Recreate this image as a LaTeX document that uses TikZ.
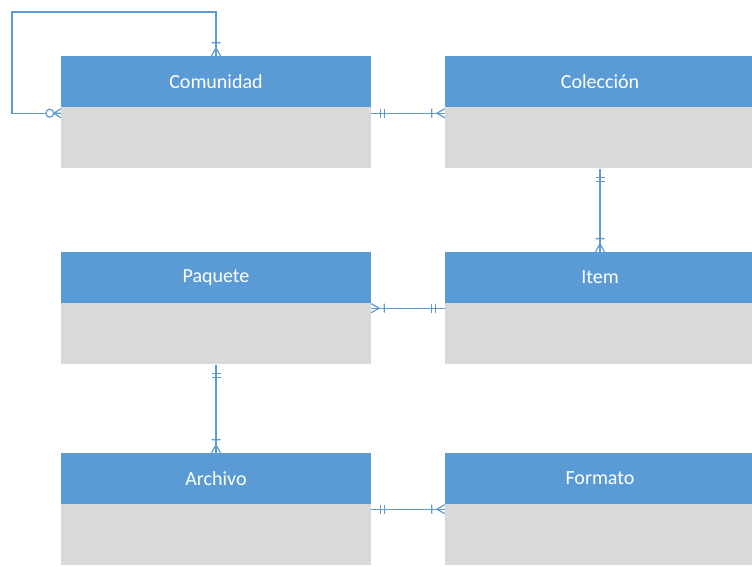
\documentclass[tikz,border=0pt]{standalone}
\usepackage{fontspec}
\setmainfont{Carlito}
\usetikzlibrary{arrows.meta}

% Crow's-foot notation tips (sizes in pt; the picture uses 1pt units)
\pgfdeclarearrow{
  name = ERom,
  parameters = {},
  setup code = {
    \pgfarrowssettipend{0pt}
    \pgfarrowssetlineend{0pt}
    \pgfarrowssetbackend{-14pt}
    \pgfarrowssetvisualbackend{-14pt}
    \pgfarrowshullpoint{0pt}{5pt}
    \pgfarrowshullpoint{0pt}{-5pt}
    \pgfarrowshullpoint{-14pt}{5pt}
    \pgfarrowshullpoint{-14pt}{-5pt}
  },
  drawing code = {
    \pgfsetdash{}{0pt}
    \pgfsetbuttcap
    \pgfsetlinewidth{1.2pt}
    \pgfpathmoveto{\pgfqpoint{0pt}{4.5pt}}
    \pgfpathlineto{\pgfqpoint{-8pt}{0pt}}
    \pgfpathlineto{\pgfqpoint{0pt}{-4.5pt}}
    \pgfpathmoveto{\pgfqpoint{-13pt}{4.5pt}}
    \pgfpathlineto{\pgfqpoint{-13pt}{-4.5pt}}
    \pgfusepathqstroke
  }
}
\pgfdeclarearrow{
  name = ERone,
  parameters = {},
  setup code = {
    \pgfarrowssettipend{0pt}
    \pgfarrowssetlineend{0pt}
    \pgfarrowssetbackend{-14pt}
    \pgfarrowssetvisualbackend{-14pt}
    \pgfarrowshullpoint{0pt}{5pt}
    \pgfarrowshullpoint{0pt}{-5pt}
    \pgfarrowshullpoint{-14pt}{5pt}
    \pgfarrowshullpoint{-14pt}{-5pt}
  },
  drawing code = {
    \pgfsetdash{}{0pt}
    \pgfsetbuttcap
    \pgfsetlinewidth{1.2pt}
    \pgfpathmoveto{\pgfqpoint{-9pt}{4.5pt}}
    \pgfpathlineto{\pgfqpoint{-9pt}{-4.5pt}}
    \pgfpathmoveto{\pgfqpoint{-13pt}{4.5pt}}
    \pgfpathlineto{\pgfqpoint{-13pt}{-4.5pt}}
    \pgfusepathqstroke
  }
}
\pgfdeclarearrow{
  name = ERzm,
  parameters = {},
  setup code = {
    \pgfarrowssettipend{0pt}
    \pgfarrowssetlineend{-15pt}
    \pgfarrowssetbackend{-16pt}
    \pgfarrowssetvisualbackend{-16pt}
    \pgfarrowshullpoint{0pt}{5pt}
    \pgfarrowshullpoint{0pt}{-5pt}
    \pgfarrowshullpoint{-16pt}{5pt}
    \pgfarrowshullpoint{-16pt}{-5pt}
  },
  drawing code = {
    \pgfsetdash{}{0pt}
    \pgfsetbuttcap
    \pgfsetlinewidth{1.2pt}
    \pgfpathmoveto{\pgfqpoint{0pt}{4.5pt}}
    \pgfpathlineto{\pgfqpoint{-7pt}{0pt}}
    \pgfpathlineto{\pgfqpoint{0pt}{-4.5pt}}
    \pgfpathmoveto{\pgfqpoint{0pt}{0pt}}
    \pgfpathlineto{\pgfqpoint{-7pt}{0pt}}
    \pgfpathcircle{\pgfqpoint{-11pt}{0pt}}{4pt}
    \pgfusepathqstroke
  }
}

\definecolor{hdrblue}{HTML}{5B9BD5}
\definecolor{bodygray}{HTML}{D9D9D9}
\definecolor{linkblue}{HTML}{5F9AD2}

\tikzset{
  entityhead/.style={rectangle, fill=hdrblue, minimum width=310pt,
    minimum height=51pt, inner sep=0pt, text=white, font=\fontsize{20}{24}\selectfont},
  entitybody/.style={rectangle, fill=bodygray, minimum width=310pt,
    minimum height=61pt, inner sep=0pt, anchor=north},
  rel/.style={draw=linkblue, line width=1.2pt}
}

\begin{document}
\begin{tikzpicture}[x=1pt, y=-1pt]
  \useasboundingbox (0,0) rectangle (752,566);

  % entities: header with the name, empty body below
  \node[entityhead] (com) at (216,81.5) {Comunidad};
  \node[entitybody] (comb) at (com.south) {};
  \node[entityhead] (col) at (600,81.5) {Colección};
  \node[entitybody] (colb) at (col.south) {};
  \node[entityhead] (paq) at (216,277.5) {Paquete};
  \node[entitybody] (paqb) at (paq.south) {};
  \node[entityhead] (item) at (600,277.5) {Item};
  \node[entitybody] (itemb) at (item.south) {};
  \node[entityhead] (arc) at (216,478.5) {Archivo};
  \node[entitybody] (arcb) at (arc.south) {};
  \node[entityhead] (for) at (600,478.5) {Formato};
  \node[entitybody] (forb) at (for.south) {};

  % relationships
  \coordinate (loop) at (12,12);
  \draw[rel, ERzm-ERom] ([yshift=-6pt]comb.north west) -| (loop) -| (com.north);
  \draw[rel, ERone-ERom] ([yshift=-6pt]comb.north east) -- ([yshift=-6pt]colb.north west);
  \draw[rel, ERone-ERom] (colb.south) -- (item.north);
  \draw[rel, ERom-ERone] ([yshift=-5pt]paqb.north east) -- ([yshift=-5pt]itemb.north west);
  \draw[rel, ERone-ERom] (paqb.south) -- (arc.north);
  \draw[rel, ERone-ERom] ([yshift=-5pt]arcb.north east) -- ([yshift=-5pt]forb.north west);
\end{tikzpicture}
\end{document}
